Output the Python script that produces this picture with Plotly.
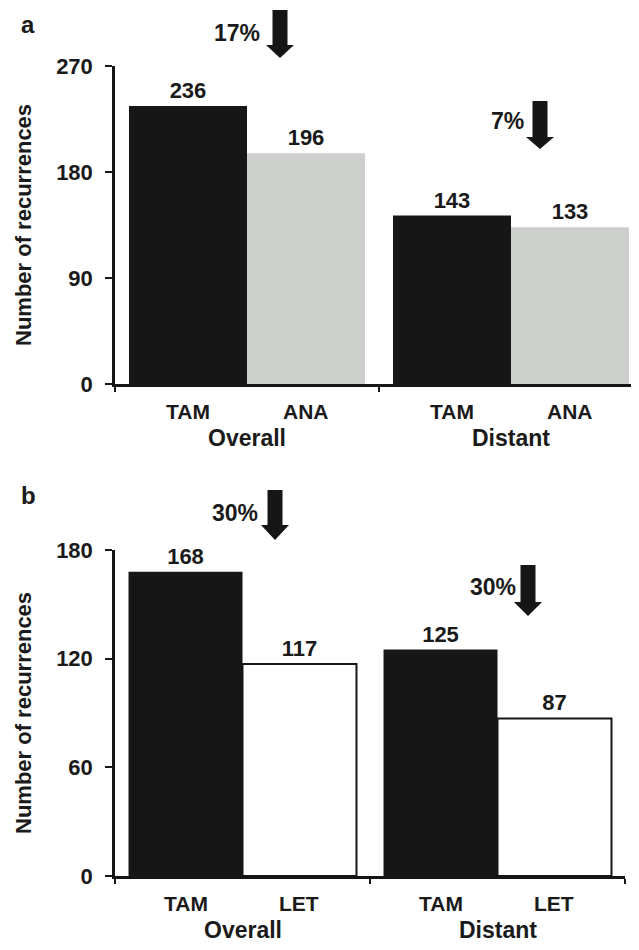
import plotly.graph_objects as go

# ---------------- data ----------------
groups = ["Overall", "Distant"]
group_x = [0, 1]

tam_a = [236, 143]
ana_a = [196, 133]
tam_b = [168, 125]
let_b = [117, 87]

drop_a = ["17%", "7%"]
drop_b = ["30%", "30%"]

yticks_a = [0, 90, 180, 270]
yticks_b = [0, 60, 120, 180]

# ---------------- styling ----------------
FONT = "Liberation Sans, Arial, Helvetica, sans-serif"
INK = "#161616"
GRAY = "#cdcfcd"
W, H = 639, 950
OFF = 8                       # page body margin of the html page
SX0, SY0, SY1 = 115, 66, 876  # plot area in screen pixels (left, top, bottom)
PW, PH = 524, SY1 - SY0
L, T = SX0 - OFF, SY0 - OFF
R, B = W - L - PW, H - T - PH


def px(p):
    return (p - SX0) / PW


def py(p):
    return (SY1 - p) / PH


BAR_OFF = 0.2235

fig = go.Figure()

def add_bars(vals, name, color, xa, ya, line_w=0):
    fig.add_trace(go.Bar(
        x=group_x, y=vals, name=name, xaxis=xa, yaxis=ya,
        offsetgroup=name,
        marker=dict(color=color, line=dict(color=INK, width=line_w)),
        text=[str(v) for v in vals], textposition="outside",
        textfont=dict(family=FONT, size=22, color="#1a1a1a", weight="bold"),
        cliponaxis=False, showlegend=False, hoverinfo="skip",
    ))

add_bars(tam_a, "TAM", INK, "x", "y")
add_bars(ana_a, "ANA", GRAY, "x", "y")
add_bars(tam_b, "TAM2", INK, "x2", "y2")
add_bars(let_b, "LET", "white", "x2", "y2", line_w=2)

axis_common = dict(showline=True, linecolor=INK, showgrid=False, zeroline=False,
                   ticks="outside", tickcolor=INK, tickwidth=2)
tickfont = dict(family=FONT, size=22, color="#1a1a1a", weight="bold")

fig.update_layout(
    width=W, height=H,
    margin=dict(l=L, r=R, t=T, b=B),
    paper_bgcolor="white", plot_bgcolor="white",
    barmode="group", bargap=0.106, bargroupgap=0,
    font=dict(family=FONT, color="#1a1a1a"),
    xaxis=dict(domain=[0, 1], range=[-0.5, -0.5 + PW / 264], anchor="y",
               tickvals=[-0.5, 0.5, 1.5], showticklabels=False, ticklen=5,
               linewidth=3, **axis_common),
    yaxis=dict(domain=[py(384), 1], range=[0, 270], anchor="x",
               tickvals=yticks_a, ticklen=7, linewidth=2.5, ticklabelstandoff=8,
               tickfont=tickfont, **axis_common),
    xaxis2=dict(domain=[0, 510 / PW], range=[-0.5, 1.5], anchor="y2",
                tickvals=[-0.5, 0.5, 1.5], showticklabels=False, ticklen=5,
                linewidth=3, **axis_common),
    yaxis2=dict(domain=[0, py(550)], range=[0, 180], anchor="x2",
                tickvals=yticks_b, ticklen=7, linewidth=2.5, ticklabelstandoff=8,
                tickfont=tickfont, **axis_common),
)

ann = []

def text(x, y, s, size, xref="paper", angle=0):
    ann.append(dict(x=x, y=y, xref=xref, yref="paper", text=s, showarrow=False,
                    xanchor="center", yanchor="middle", textangle=angle,
                    font=dict(family=FONT, size=size, color="#1a1a1a", weight="bold")))

# category labels
for xr, sub, lab_y, grp_y in [("x", ["TAM", "ANA"], 411, 438), ("x2", ["TAM", "LET"], 903, 930)]:
    for g, c in zip(groups, group_x):
        text(c - BAR_OFF, py(lab_y), sub[0], 21, xref=xr)
        text(c + BAR_OFF, py(lab_y), sub[1], 21, xref=xr)
        text(c, py(grp_y), g, 23, xref=xr)

# panel letters and y titles
text(px(28), py(25), "a", 24)
text(px(28), py(495), "b", 24)
text(px(23), py(225), "Number of recurrences", 22, angle=-90)
text(px(23), py(713), "Number of recurrences", 22, angle=-90)

# percentage reductions with arrows
pct_pos = [(drop_a[0], 237, 33), (drop_a[1], 507, 121), (drop_b[0], 235, 513), (drop_b[1], 493, 587)]
for s, x, y in pct_pos:
    text(px(x), py(y), s, 23)

arrows = [  # cx, top, head_start, tip (screen pixels)
    (280, 10, 45, 58),
    (540, 101, 137, 149),
    (275, 490, 525, 540),
    (528, 565, 602, 616),
]
shapes = []
SW, HW = 15, 28
for cx, top, hy, tip in arrows:
    pts = [(cx - SW / 2, top), (cx + SW / 2, top), (cx + SW / 2, hy), (cx + HW / 2, hy),
           (cx, tip), (cx - HW / 2, hy), (cx - SW / 2, hy)]
    path = "M " + " L ".join(f"{px(a):.5f},{py(b):.5f}" for a, b in pts) + " Z"
    shapes.append(dict(type="path", path=path, xref="paper", yref="paper",
                       fillcolor=INK, line=dict(width=0)))

fig.update_layout(annotations=ann, shapes=shapes)

fig.write_html("out.html")
